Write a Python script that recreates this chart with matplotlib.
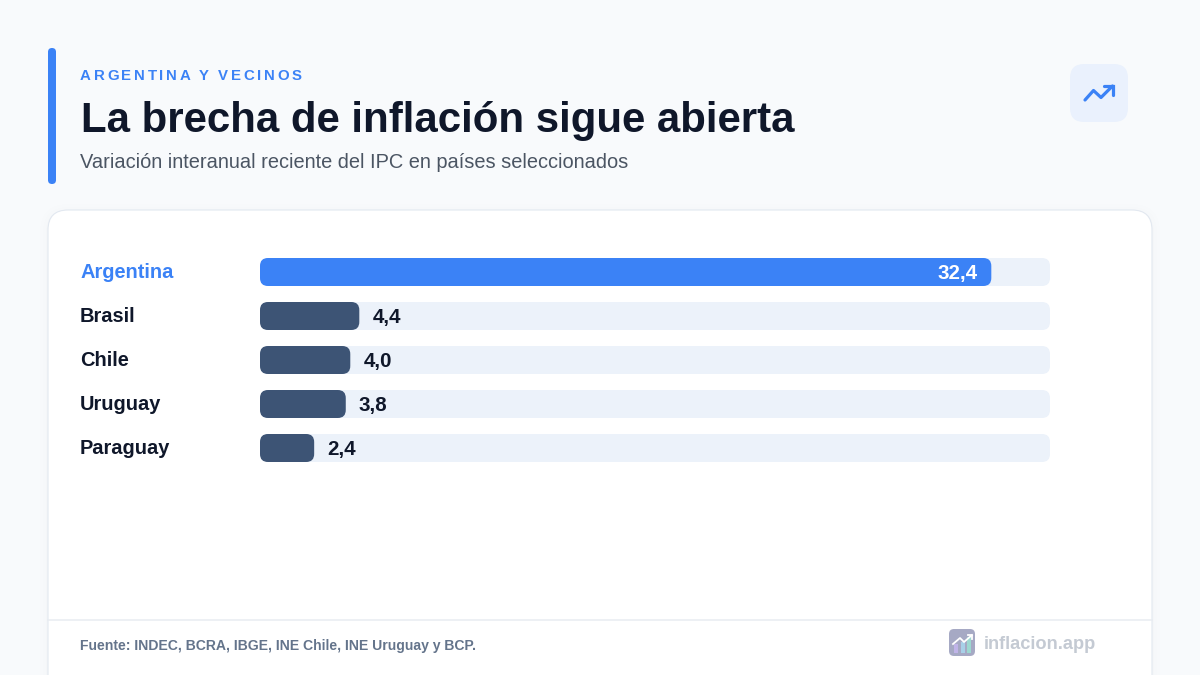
import matplotlib
matplotlib.use('Agg')
import matplotlib.pyplot as plt
from matplotlib.patches import FancyBboxPatch

plt.rcParams['font.family'] = ['Liberation Sans', 'DejaVu Sans']

# Data
countries = ['Argentina', 'Brasil', 'Chile', 'Uruguay', 'Paraguay']
values = [32.4, 4.4, 4.0, 3.8, 2.4]
scale_max = 35.0

eyebrow = 'ARGENTINA Y VECINOS'
title = 'La brecha de inflación sigue abierta'
subtitle = 'Variación interanual reciente del IPC en países seleccionados'
source = 'Fuente: INDEC, BCRA, IBGE, INE Chile, INE Uruguay y BCP.'
brand = 'inflacion.app'

BLUE = '#3b82f6'
SLATE = '#3d5475'
TRACK = '#ecf2fa'
INK = '#0f172a'

def px(size):
    return size * 0.72

fig = plt.figure(figsize=(12, 6.75), dpi=100, facecolor='#f8fafc')

# Page layer in pixel coordinates
page = fig.add_axes([0, 0, 1, 1])
page.set_xlim(0, 1200)
page.set_ylim(675, 0)
page.axis('off')

def rounded(ax, x, y, w, h, r, **kw):
    p = FancyBboxPatch((x, y), w, h, boxstyle=f'round,pad=0,rounding_size={r}', **kw)
    ax.add_patch(p)
    return p

def spaced_text(ax, x, y, s, spacing, **kw):
    # matplotlib has no letter spacing, so place the glyphs one at a time
    renderer = fig.canvas.get_renderer()
    probe = ax.text(0, 0, '', **kw)
    for i, ch in enumerate(s):
        probe.set_text(s[:i] + '|')
        full = probe.get_window_extent(renderer).width
        probe.set_text('|')
        advance = full - probe.get_window_extent(renderer).width if i else 0
        ax.text(x + advance + spacing * i, y, ch, ha='left', va='baseline', **kw)
    probe.remove()

# Accent bar and header
rounded(page, 48, 48, 8, 136, 4, fc=BLUE, ec='none')
spaced_text(page, 80, 80, eyebrow, 2.65, fontsize=px(15), fontweight='bold', color=BLUE)
page.text(81, 132, title, fontsize=px(42), fontweight='bold', color=INK, ha='left', va='baseline')
page.text(80, 168, subtitle, fontsize=px(20), color='#4b5563', ha='left', va='baseline')

# Trend icon
rounded(page, 1070, 64, 58, 58, 14, fc='#eaf1fd', ec='none')
page.plot([1085, 1093.5, 1101, 1112.5], [100, 90.5, 97.5, 86], color=BLUE, lw=px(3.2),
          solid_capstyle='round', solid_joinstyle='round')
page.plot([1104, 1113, 1113], [86, 86, 95], color=BLUE, lw=px(3.2),
          solid_capstyle='round', solid_joinstyle='miter')

# Card with a soft shadow
for grow, alpha in [(8, 0.003), (5, 0.004), (2, 0.006)]:
    rounded(page, 48 - grow, 210 - grow + 2, 1104 + 2 * grow, 520, 20 + grow,
            fc='#0f172a', ec='none', alpha=alpha)
rounded(page, 48, 210, 1104, 520, 20, fc='white', ec='#e2e8f0', lw=px(1.1))

# Footer
page.plot([48, 1152], [620, 620], color='#e8ecf1', lw=px(1.5))
page.text(80, 650, source, fontsize=px(14), fontweight='bold', color='#64748b', ha='left', va='baseline')
rounded(page, 949, 629, 26, 27, 5, fc='#a6a9c4', ec='none')
page.bar([956, 963, 969], [-9, -11, -16], width=4, bottom=653, color=['#c0b4e8', '#a8d0e8', '#9cd8d0'])
page.plot([953, 960, 964, 972], [644, 638, 642, 635], color='white', lw=px(1.8))
page.plot([968, 972, 972], [634.5, 634.5, 638.5], color='white', lw=px(1.8))
page.text(984, 649, brand, fontsize=px(18.3), fontweight='bold', color='#c4cad3', ha='left', va='baseline')

# Bar chart: each row is 44 px, the track spans 790 px
ax = fig.add_axes([260 / 1200, 1 - 470 / 675, 790 / 1200, 220 / 675])
ax.set_xlim(0, scale_max)
ax.set_ylim(4.5, -0.5)
ax.axis('off')
ax.patch.set_alpha(0)

px_per_x = 790 / scale_max
px_per_y = 44
bar_h = 28 / px_per_y
radius = 8 / px_per_x
aspect = px_per_x / px_per_y

for i, (name, val) in enumerate(zip(countries, values)):
    highlight = i == 0
    for w, col, z in [(scale_max, TRACK, 1), (val, BLUE if highlight else SLATE, 2)]:
        p = FancyBboxPatch((0, i - bar_h / 2), w, bar_h,
                           boxstyle=f'round,pad=0,rounding_size={radius}',
                           mutation_aspect=aspect, fc=col, ec='none', zorder=z, clip_on=False)
        ax.add_patch(p)
    ax.annotate(name, xy=(0, i), xytext=(px(-180), px(-6)), textcoords='offset points',
                ha='left', va='baseline', fontsize=px(20), fontweight='bold',
                color=BLUE if highlight else INK, annotation_clip=False)
    label = f'{val:.1f}'.replace('.', ',')
    if highlight:
        ax.annotate(label, xy=(val, i), xytext=(px(-14), px(-7)), textcoords='offset points',
                    ha='right', va='baseline', fontsize=px(20.5), fontweight='bold', color='white', zorder=3)
    else:
        ax.annotate(label, xy=(val, i), xytext=(px(13), px(-7)), textcoords='offset points',
                    ha='left', va='baseline', fontsize=px(20.5), fontweight='bold', color=INK, zorder=3)

fig.savefig('out.png', dpi=100, facecolor=fig.get_facecolor())
